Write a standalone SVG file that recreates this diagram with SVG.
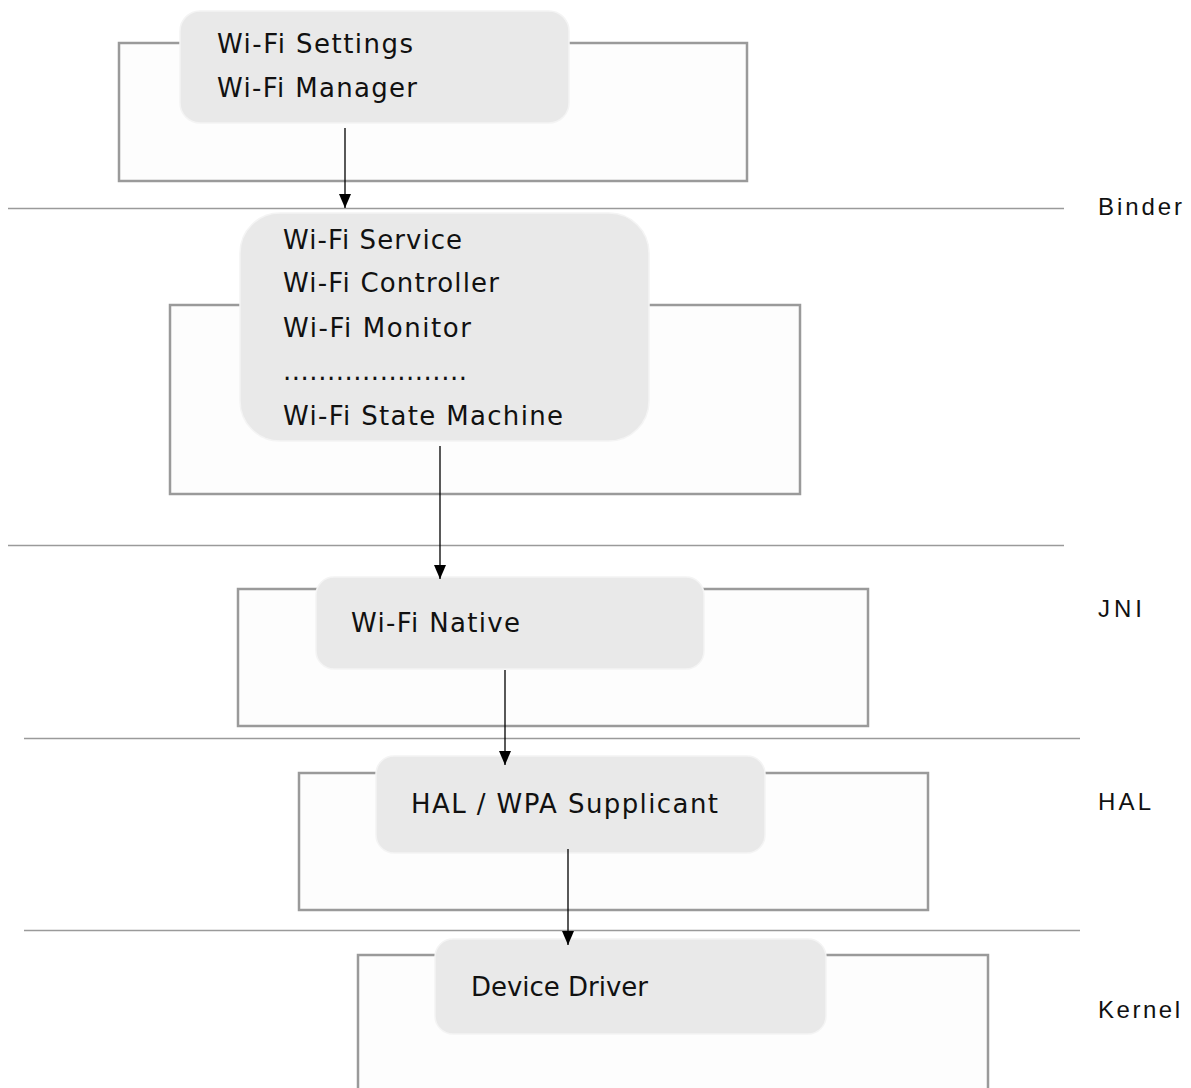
<svg xmlns="http://www.w3.org/2000/svg" width="1191" height="1088" viewBox="0 0 1191 1088">
<defs>
<marker id="ah" viewBox="0 0 14 12" refX="14" refY="6" markerWidth="14" markerHeight="12" markerUnits="userSpaceOnUse" orient="auto">
<path d="M0,0 L14,6 L0,12 Z" fill="#000"/>
</marker>
<style>
.outer{fill:#fdfdfd;stroke:#9a9a9a;stroke-width:2.5}
.inner{fill:#e9e9e9;stroke:#f4f4f4;stroke-width:1.5}
.t{font-family:"DejaVu Sans","Liberation Sans",sans-serif;font-size:26px;fill:#111}
.lbl{font-family:"Liberation Sans",Arial,sans-serif;font-size:24px;fill:#111}
.sep{stroke:#9a9a9a;stroke-width:1.5}
.conn{stroke:#000;stroke-width:1.3;fill:none;marker-end:url(#ah)}
</style>
</defs>
<rect width="1191" height="1088" fill="#fff"/>
<g id="layers">
<line class="sep" x1="8" y1="208.5" x2="1064" y2="208.5"/>
<line class="sep" x1="8" y1="545.5" x2="1064" y2="545.5"/>
<line class="sep" x1="24" y1="738.5" x2="1080" y2="738.5"/>
<line class="sep" x1="24" y1="930.5" x2="1080" y2="930.5"/>
<text class="lbl" x="1098" y="215" textLength="84">Binder</text>
<text class="lbl" x="1098" y="617" textLength="44">JNI</text>
<text class="lbl" x="1098" y="810" textLength="53">HAL</text>
<text class="lbl" x="1098" y="1018" textLength="82">Kernel</text>
</g>
<g id="node-app">
<rect class="outer" x="119" y="43" width="628" height="138"/>
<rect class="inner" x="180" y="11" width="389" height="112" rx="20"/>
<text class="t" x="217" y="53" textLength="196">Wi-Fi Settings</text>
<text class="t" x="217" y="97" textLength="200">Wi-Fi Manager</text>
</g>
<g id="node-framework">
<rect class="outer" x="170" y="305" width="630" height="189"/>
<rect class="inner" x="240" y="213" width="409" height="228" rx="40"/>
<text class="t" x="283" y="249" textLength="179">Wi-Fi Service</text>
<text class="t" x="283" y="292" textLength="216">Wi-Fi Controller</text>
<text class="t" x="283" y="337" textLength="188">Wi-Fi Monitor</text>
<text class="t" x="283" y="380" textLength="184">.....................</text>
<text class="t" x="283" y="425" textLength="280">Wi-Fi State Machine</text>
</g>
<g id="node-native">
<rect class="outer" x="238" y="589" width="630" height="137"/>
<rect class="inner" x="316" y="577" width="388" height="92" rx="18"/>
<text class="t" x="351" y="632" textLength="169">Wi-Fi Native</text>
</g>
<g id="node-hal">
<rect class="outer" x="299" y="773" width="629" height="137"/>
<rect class="inner" x="376" y="756" width="389" height="97" rx="18"/>
<text class="t" x="411" y="813" textLength="307">HAL / WPA Supplicant</text>
</g>
<g id="node-kernel">
<path class="outer" d="M358,1090 L358,955 L988,955 L988,1090"/>
<rect class="inner" x="435" y="939" width="391" height="95" rx="18"/>
<text class="t" x="471" y="996" textLength="177">Device Driver</text>
</g>
<g id="connectors">
<line class="conn" x1="345" y1="128" x2="345" y2="208"/>
<line class="conn" x1="440" y1="446" x2="440" y2="579"/>
<line class="conn" x1="505" y1="670" x2="505" y2="765"/>
<line class="conn" x1="568" y1="849" x2="568" y2="945"/>
</g>
</svg>
